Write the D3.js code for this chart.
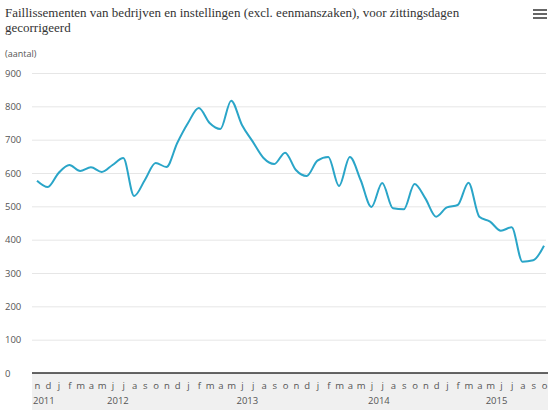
<!DOCTYPE html>
<html>
<head>
  <meta charset="utf-8">
  <title>faillissementen</title>
  <script src="https://d3js.org/d3.v7.min.js"></script>
  <style>
    body { margin: 0; background: #fff; }
    svg { display: block; }
    .title { font-family: "Liberation Serif", serif; font-size: 13px; fill: #333; }
    .unit, .tick text, .year { font-family: "Open Sans", sans-serif; fill: #555; }
    .y .tick line { stroke: #e6e6e6; }
    .y .domain { display: none; }
  </style>
</head>
<body>
<script>
  // months nov 2011 .. okt 2015
  var monthLabels = ["n","d",
    "j","f","m","a","m","j","j","a","s","o","n","d",
    "j","f","m","a","m","j","j","a","s","o","n","d",
    "j","f","m","a","m","j","j","a","s","o","n","d",
    "j","f","m","a","m","j","j","a","s","o"];
  var years = ["2011","2012","2013","2014","2015"];
  var yearPos = [0, 7.5, 19.5, 31.7, 42.6];   // month index under which the year label is centred
  var values = [577,558,600,624,606,617,603,624,645,531,579,630,
                618,690,750,795,750,732,817,744,694,645,627,661,
                609,591,637,648,561,648,579,498,570,494,491,567,
                524,469,497,504,571,469,454,427,437,334,338,382];
  var yTicks = [0,100,200,300,400,500,600,700,800,900];

  var W = 550, H = 416;
  var plotLeft = 32, plotRight = 548, plotTop = 73, plotBottom = 373;

  var svg = d3.select("body").append("svg")
      .attr("width", W).attr("height", H);

  svg.append("text").attr("class", "title").attr("x", 5).attr("y", 17)
      .text("Faillissementen van bedrijven en instellingen (excl. eenmanszaken), voor zittingsdagen");
  svg.append("text").attr("class", "title").attr("x", 5).attr("y", 32)
      .text("gecorrigeerd");
  svg.append("text").attr("class", "unit").attr("x", 5).attr("y", 57)
      .style("font-size", "9px").text("(aantal)");

  // menu icon
  svg.selectAll("rect.menu").data([0,1,2]).enter().append("rect")
      .attr("class", "menu")
      .attr("x", 533).attr("y", function(d) { return 9 + d * 4; })
      .attr("width", 14).attr("height", 2).attr("fill", "#666");

  var x = d3.scalePoint()
      .domain(d3.range(values.length))
      .range([37, 544]);
  var xi = d3.scaleLinear().domain([0, values.length - 1]).range([37, 544]);

  var y = d3.scaleLinear()
      .domain([0, 900])
      .range([plotBottom, plotTop]);

  // x band
  svg.append("rect")
      .attr("x", plotLeft).attr("y", plotBottom)
      .attr("width", plotRight - plotLeft).attr("height", 37)
      .attr("fill", "#f0f0f0");

  svg.append("g")
      .attr("class", "y")
      .attr("transform", "translate(" + plotLeft + ",0)")
      .call(d3.axisLeft(y).tickValues(yTicks).tickSize(-(plotRight - plotLeft - 2)).tickPadding(12))
      .call(function(g) {
        g.selectAll("text").style("font-size", "9.5px").attr("text-anchor", "start").attr("x", -27);
      });

  svg.append("line")
      .attr("x1", plotLeft).attr("x2", plotRight)
      .attr("y1", plotBottom).attr("y2", plotBottom)
      .attr("stroke", "#333").attr("stroke-width", 1.5);

  svg.append("g")
      .attr("transform", "translate(0," + plotBottom + ")")
      .call(d3.axisBottom(x).tickSize(0).tickPadding(9)
        .tickFormat(function(i) { return monthLabels[i]; }))
      .call(function(g) {
        g.select(".domain").remove();
        g.selectAll("text").style("font-size", "9.5px");
      });

  svg.selectAll("text.year").data(years).enter().append("text")
      .attr("class", "year")
      .attr("x", function(d, i) { return i === 0 ? 33 : xi(yearPos[i]); })
      .attr("y", 404)
      .attr("text-anchor", function(d, i) { return i === 0 ? "start" : "middle"; })
      .style("font-size", "9.5px")
      .text(function(d) { return d; });

  var line = d3.line()
      .x(function(d, i) { return x(i); })
      .y(function(d) { return y(d); })
      .curve(d3.curveMonotoneX);

  svg.append("path")
      .datum(values)
      .attr("fill", "none")
      .attr("stroke", "#2aa5c8")
      .attr("stroke-width", 2)
      .attr("d", line);
</script>
</body>
</html>
